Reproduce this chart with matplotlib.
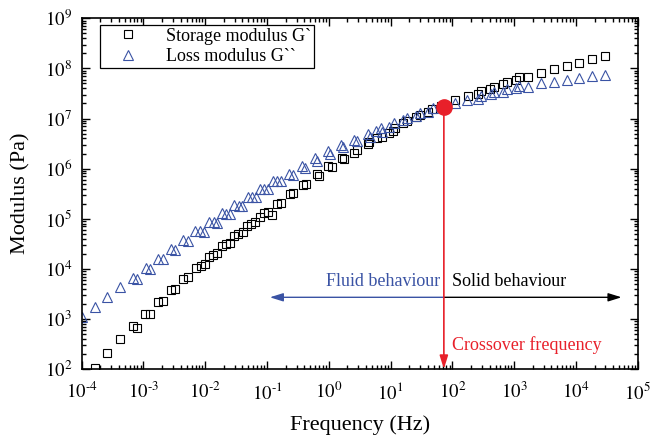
import matplotlib
matplotlib.use("Agg")
import matplotlib.pyplot as plt
import numpy as np
from matplotlib.ticker import LogLocator, FuncFormatter, NullFormatter

plt.rcParams['font.family'] = ['Liberation Serif', 'DejaVu Serif']
plt.rcParams['mathtext.fontset'] = 'stix'

# Storage modulus G' (Pa) vs frequency (Hz)
storage_freq = [1.64e-4, 2.59e-4, 4.20e-4, 6.71e-4, 7.85e-4, 1.07e-3, 1.26e-3, 1.73e-3, 2.05e-3,
                2.79e-3, 3.27e-3, 4.44e-3, 5.21e-3, 7.13e-3, 8.43e-3, 9.82e-3, 1.16e-2, 1.35e-2,
                1.57e-2, 1.84e-2, 2.15e-2, 2.51e-2, 2.94e-2, 3.44e-2, 4.03e-2, 4.76e-2, 5.55e-2,
                6.44e-2, 7.73e-2, 9.02e-2, 1.04e-1, 1.22e-1, 1.43e-1, 1.68e-1, 2.35e-1, 2.65e-1,
                3.77e-1, 4.27e-1, 6.35e-1, 6.92e-1, 9.84e-1, 1.11, 1.61, 1.75, 2.58, 2.82, 4.25,
                4.51, 6.07, 7.14, 9.48, 10.8, 11.7, 16.0, 18.6, 25.7, 29.8, 40.6, 47.4, 65.2,
                110, 180, 262, 296, 405, 470, 664, 753, 1090, 1205, 1690, 2700, 4390, 7050,
                11300, 18100, 29400]
storage_mod = [1.06e2, 2.06e2, 3.92e2, 7.21e2, 6.67e2, 1.25e3, 1.28e3, 2.20e3, 2.28e3,
               3.72e3, 4.01e3, 6.34e3, 6.76e3, 1.02e4, 1.15e4, 1.22e4, 1.71e4, 1.89e4,
               2.04e4, 2.85e4, 3.08e4, 3.32e4, 4.58e4, 4.91e4, 5.31e4, 7.14e4, 7.94e4,
               8.59e4, 1.10e5, 1.28e5, 1.38e5, 1.17e5, 1.96e5, 2.08e5, 3.07e5, 3.21e5,
               4.65e5, 4.86e5, 7.69e5, 7.21e5, 1.13e6, 1.06e6, 1.65e6, 1.56e6, 2.07e6, 2.35e6,
               3.05e6, 3.44e6, 4.03e6, 4.34e6, 5.07e6, 5.64e6, 6.37e6, 8.02e6, 8.91e6, 1.07e7,
               1.20e7, 1.38e7, 1.53e7, 1.78e7, 2.34e7, 2.85e7, 3.04e7, 3.54e7, 3.83e7, 4.32e7,
               4.82e7, 5.43e7, 5.86e7, 6.64e7, 6.82e7, 8.20e7, 9.59e7, 1.13e8, 1.31e8, 1.52e8,
               1.73e8]

# Loss modulus G'' (Pa) vs frequency (Hz)
loss_freq = [1.01e-4, 1.62e-4, 2.59e-4, 4.22e-4, 6.76e-4, 7.94e-4, 1.09e-3, 1.27e-3, 1.73e-3,
             2.05e-3, 2.79e-3, 3.27e-3, 4.44e-3, 5.21e-3, 6.93e-3, 8.11e-3, 9.64e-3, 1.17e-2,
             1.36e-2, 1.56e-2, 1.86e-2, 2.16e-2, 2.49e-2, 2.96e-2, 3.47e-2, 4.00e-2, 4.85e-2,
             5.64e-2, 6.55e-2, 7.67e-2, 9.02e-2, 1.04e-1, 1.23e-1, 1.43e-1, 1.66e-1, 2.29e-1,
             2.65e-1, 3.74e-1, 4.18e-1, 5.96e-1, 6.53e-1, 9.57e-1, 1.04, 1.55, 1.67, 2.55,
             2.82, 4.35, 4.62, 5.78, 6.89, 7.14, 9.48, 11.4, 16.0, 18.6, 25.7, 29.8, 40.6,
             47.9, 65.2, 110, 170, 262, 296, 415, 470, 664, 753, 1060, 1205, 1690, 2700,
             4390, 7050, 11300, 18100, 29400]
loss_mod = [1.11e3, 1.73e3, 2.77e3, 4.34e3, 6.64e3, 6.25e3, 1.02e4, 9.77e3, 1.57e4,
            1.55e4, 2.45e4, 2.37e4, 3.76e4, 3.64e4, 5.69e4, 5.69e4, 5.51e4, 8.67e4,
            8.47e4, 8.32e4, 1.28e5, 1.24e5, 1.22e5, 1.87e5, 1.83e5, 1.82e5, 2.75e5,
            2.75e5, 2.67e5, 3.97e5, 3.92e5, 3.86e5, 5.73e5, 5.73e5, 5.65e5, 7.80e5,
            7.55e5, 1.15e6, 1.05e6, 1.63e6, 1.43e6, 2.21e6, 1.95e6, 2.96e6, 2.64e6, 3.72e6,
            3.56e6, 4.84e6, 4.34e6, 5.62e6, 6.37e6, 5.46e6, 6.86e6, 8.02e6, 9.33e6, 1.04e7,
            1.12e7, 1.27e7, 1.37e7, 1.60e7, 1.74e7, 2.01e7, 2.29e7, 2.42e7, 2.81e7, 3.04e7,
            3.43e7, 3.43e7, 3.88e7, 4.01e7, 4.46e7, 4.32e7, 5.05e7, 5.43e7, 5.86e7, 6.43e7,
            7.05e7, 7.48e7]

crossover_freq = 72.8
crossover_mod = 1.72e7
arrow_level = 2.7e3
fluid_end = 0.111
solid_end = 5.47e4

series_labels = ["Storage modulus G`", "Loss modulus G``"]
blue = '#3a53a4'
red = '#e8202a'

fig = plt.figure(figsize=(6.5, 4.38), dpi=100)
ax = fig.add_axes([0.1257, 0.1575, 0.8554, 0.8007])

ax.plot(storage_freq, storage_mod, linestyle='none', marker='s', markersize=5.6,
        markerfacecolor='none', markeredgecolor='black', markeredgewidth=0.8,
        label=series_labels[0])
ax.plot(loss_freq, loss_mod, linestyle='none', marker='^', markersize=7,
        markerfacecolor='none', markeredgecolor=blue, markeredgewidth=0.8,
        label=series_labels[1])

# arrows
ax.annotate('', xy=(fluid_end, arrow_level), xytext=(crossover_freq, arrow_level),
            arrowprops=dict(arrowstyle='-|>,head_length=0.8,head_width=0.25', color=blue,
                            lw=1.0, shrinkA=0, shrinkB=0))
ax.annotate('', xy=(solid_end, arrow_level), xytext=(crossover_freq, arrow_level),
            arrowprops=dict(arrowstyle='-|>,head_length=0.8,head_width=0.25', color='black',
                            lw=1.0, shrinkA=0, shrinkB=0))
ax.annotate('', xy=(crossover_freq, 1e2), xytext=(crossover_freq, crossover_mod),
            arrowprops=dict(arrowstyle='-|>,head_length=0.8,head_width=0.25', color=red,
                            lw=1.2, shrinkA=0, shrinkB=0), zorder=4)
ax.plot([crossover_freq], [crossover_mod], marker='o', markersize=11, color=red,
        linestyle='none', zorder=5)

ax.text(63, 5.7e3, 'Fluid behaviour', color=blue, fontsize=13, ha='right', va='center')
ax.text(98, 5.7e3, 'Solid behaviour', color='black', fontsize=13, ha='left', va='center')
ax.text(98, 3.0e2, 'Crossover frequency', color=red, fontsize=13, ha='left', va='center')

ax.set_xscale('log')
ax.set_yscale('log')
ax.set_xlim(1e-4, 1e5)
ax.set_ylim(1e2, 1e9)


def pow_label(v, pos):
    e = int(round(np.log10(v)))
    s = str(e).replace('-', '\u2010')
    return '$10^{' + s + '}$'


ax.xaxis.set_major_locator(LogLocator(base=10, numticks=20))
ax.yaxis.set_major_locator(LogLocator(base=10, numticks=20))
ax.xaxis.set_minor_locator(LogLocator(base=10, subs=range(2, 10), numticks=20))
ax.yaxis.set_minor_locator(LogLocator(base=10, subs=range(2, 10), numticks=20))
ax.xaxis.set_major_formatter(FuncFormatter(pow_label))
ax.yaxis.set_major_formatter(FuncFormatter(pow_label))
ax.xaxis.set_minor_formatter(NullFormatter())
ax.yaxis.set_minor_formatter(NullFormatter())

ax.tick_params(which='both', direction='in', top=True, right=True, labelsize=13.5, width=1.0)
ax.tick_params(which='major', length=6)
ax.tick_params(axis='x', which='major', pad=9)
ax.tick_params(axis='y', which='major', pad=7)
ax.tick_params(which='minor', length=3)
for sp in ax.spines.values():
    sp.set_linewidth(1.2)

ax.set_xlabel('Frequency (Hz)', fontsize=16, labelpad=9)
ax.set_ylabel('Modulus (Pa)', fontsize=16, labelpad=10)

leg = ax.legend(loc='upper left', bbox_to_anchor=(0.033, 0.981), borderaxespad=0,
                fontsize=13, fancybox=False, edgecolor='black', framealpha=1,
                handlelength=2.8, handletextpad=0.7, borderpad=0.15, labelspacing=0.2)
leg.get_frame().set_linewidth(0.9)

fig.savefig('out.png', dpi=100)
